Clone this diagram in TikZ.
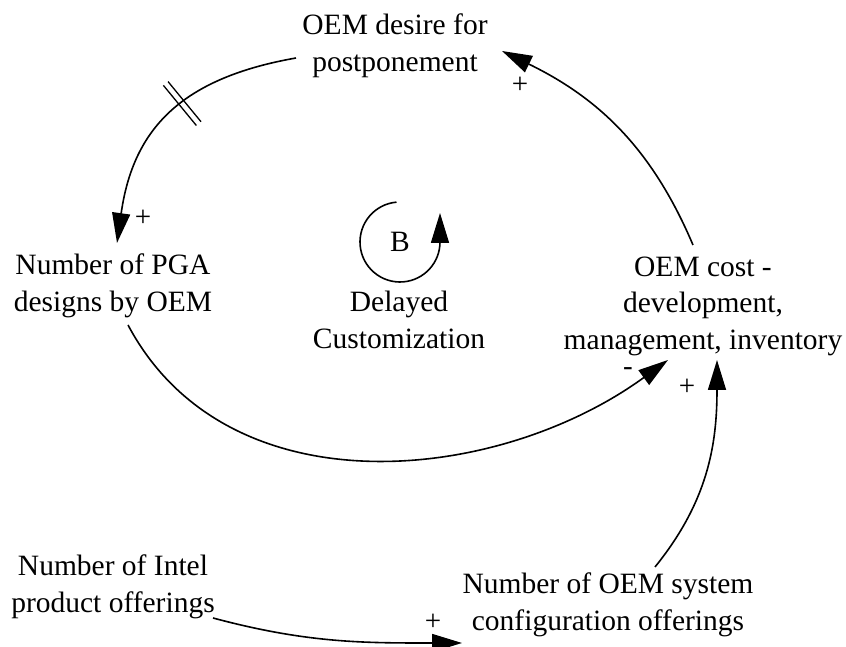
\documentclass[tikz,border=0pt]{standalone}
\usepackage{fontspec}
\setmainfont{Liberation Serif}
\usetikzlibrary{arrows.meta,decorations.markings}

\tikzset{
  var/.style={align=center, inner sep=0pt, font=\fontsize{29.5}{36.5}\selectfont},
  link/.style={line width=1.6pt, -{Triangle[length=30pt,width=18pt]}},
  sign/.style={inner sep=0pt, font=\fontsize{29}{29}\selectfont},
  delay/.style={postaction={decorate}, decoration={markings,
    mark=at position #1 with {\draw[line width=1.3pt,-] (-3pt,-26pt)--(-3pt,26pt) (3pt,-26pt)--(3pt,26pt);}}}
}

\begin{document}
\begin{tikzpicture}[x=1pt,y=1pt]
\useasboundingbox (0,0) rectangle (846,647);

% variables
\node[var] (desire)  at (395,601) {OEM desire for\\postponement};
\node[var] (pga)     at (113,361) {Number of PGA\\designs by OEM};
\node[var] (cost)    at (703,341) {OEM cost -\\development,\\management, inventory};
\node[var] (intel)   at (113,60)  {Number of Intel\\product offerings};
\node[var] (oemsys)  at (608,42)  {Number of OEM system\\configuration offerings};

% balancing loop marker
\coordinate (loopc) at (400,405);
\node[var] (bmark) at (loopc) {B};
\node[var] (loopname) at (399,327) {Delayed\\Customization};
\draw[link] ([shift={(95:40)}]loopc) arc[start angle=95, end angle=360, radius=40] -- ++(0,29);

% causal links
\draw[link, delay=0.44] ([shift={(-99,-12)}]desire.center) to[out=190,in=82,looseness=1.15] ([shift={(4,43)}]pga.center);
\draw[link] ([shift={(-10,61)}]cost.center) to[out=113,in=-26] ([shift={(107,-5)}]desire.center);
\draw[link] ([shift={(15,-39)}]pga.center) to[out=-62,in=-144] ([shift={(-35,-54)}]cost.center);
\draw[link] ([shift={(47,38)}]oemsys.center) to[out=51,in=-90] ([shift={(14,-54)}]cost.center);
\draw[link] ([shift={(100,-31)}]intel.center) to[out=-15,in=180] ([shift={(-146,-38)}]oemsys.center);

% link polarities
\node[sign] (s1) at (143,429) {+};
\node[sign] (s2) at (520,562) {+};
\node[sign] (s3) at (687,260) {+};
\node[sign] (s4) at (433,25)  {+};
\node[sign] (s5) at (628,275) {-};
\end{tikzpicture}
\end{document}
